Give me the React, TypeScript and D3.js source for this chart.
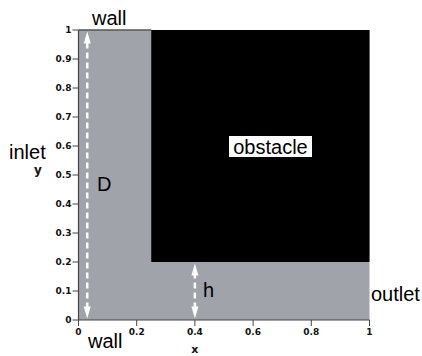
import React from "react";
import * as d3 from "d3";

const xTicks = [0, 0.2, 0.4, 0.6, 0.8, 1];
const yTicks = [0, 0.1, 0.2, 0.3, 0.4, 0.5, 0.6, 0.7, 0.8, 0.9, 1];
const domainX = [0, 1];
const domainY = [0, 1];
const obstacleX = [0.25, 1];
const obstacleY = [0.2, 1];
const arrowD = { x: 0.03, y0: 0.005, y1: 0.995 };
const arrowH = { x: 0.4, y0: 0.005, y1: 0.195 };

export default function App() {
  const W = 422, H = 356;
  const left = 78.5, right = 369.5, top = 30, bottom = 320;
  const x = d3.scaleLinear().domain(domainX).range([left, right]);
  const y = d3.scaleLinear().domain(domainY).range([bottom, top]);
  const fmt = (v: number) => String(v);
  const tickFont = { fontFamily: "DejaVu Sans", fontWeight: "bold" as const, fontSize: 9 };
  const labFont = { fontFamily: "Liberation Sans, Arial, sans-serif", fontSize: 20 };

  const arrow = (ax: number, y0: number, y1: number, key: string) => {
    const px = x(ax);
    const py0 = y(y0), py1 = y(y1);
    return (
      <g key={key}>
        <line x1={px} x2={px} y1={py0 - 10} y2={py1 + 10} stroke="white" strokeWidth={2.5} strokeDasharray="6,4" />
        <path d={`M${px},${py1} L${px - 3.5},${py1 + 12} L${px + 3.5},${py1 + 12} Z`} fill="white" />
        <path d={`M${px},${py0} L${px - 3.5},${py0 - 12} L${px + 3.5},${py0 - 12} Z`} fill="white" />
      </g>
    );
  };

  return (
    <svg width={W} height={H} style={{ position: "absolute", left: 0, top: 0, background: "white" }}>
      <rect x={x(0)} y={y(1)} width={x(1) - x(0)} height={y(0) - y(1)} fill="#a0a3aa" />
      <rect x={x(obstacleX[0])} y={y(obstacleY[1])} width={x(obstacleX[1]) - x(obstacleX[0])} height={y(obstacleY[0]) - y(obstacleY[1])} fill="black" />
      <line x1={x(0)} x2={x(obstacleX[0])} y1={y(1)} y2={y(1)} stroke="#555" strokeWidth={1.5} />
      <line x1={x(0)} x2={x(1)} y1={y(0)} y2={y(0)} stroke="#444" strokeWidth={1.2} />
      <line x1={x(0)} x2={x(0)} y1={y(0)} y2={y(1)} stroke="#444" strokeWidth={1.2} />
      {yTicks.map((t) => (
        <g key={"y" + t}>
          <line x1={x(0) - 6} x2={x(0)} y1={y(t)} y2={y(t)} stroke="#444" strokeWidth={1} />
          <text x={x(0) - 7} y={y(t) + 3} textAnchor="end" {...tickFont} fill="#111">{fmt(t)}</text>
        </g>
      ))}
      {xTicks.map((t) => (
        <g key={"x" + t}>
          <line x1={x(t)} x2={x(t)} y1={y(0)} y2={y(0) + 6} stroke="#444" strokeWidth={1} />
          <text x={x(t)} y={y(0) + 15} textAnchor="middle" {...tickFont} fill="#111">{fmt(t)}</text>
        </g>
      ))}
      <text x={x(0.4)} y={353} textAnchor="middle" {...tickFont} fontSize={11} fill="#111">x</text>
      <text x={38} y={174} textAnchor="middle" {...tickFont} fontSize={12} fill="#111">y</text>
      {arrow(arrowD.x, arrowD.y0, arrowD.y1, "D")}
      {arrow(arrowH.x, arrowH.y0, arrowH.y1, "h")}
      <text x={92} y={25} {...labFont} fill="black">wall</text>
      <text x={88} y={348} {...labFont} fill="black">wall</text>
      <text x={9} y={159} {...labFont} fill="black">inlet</text>
      <text x={371} y={301} {...labFont} fill="black">outlet</text>
      <text x={97} y={191} {...labFont} fill="black">D</text>
      <text x={203} y={297} {...labFont} fill="black">h</text>
      <rect x={229} y={136} width={83} height={21} fill="white" />
      <text x={270.5} y={153.5} textAnchor="middle" {...labFont} fill="black">obstacle</text>
    </svg>
  );
}
